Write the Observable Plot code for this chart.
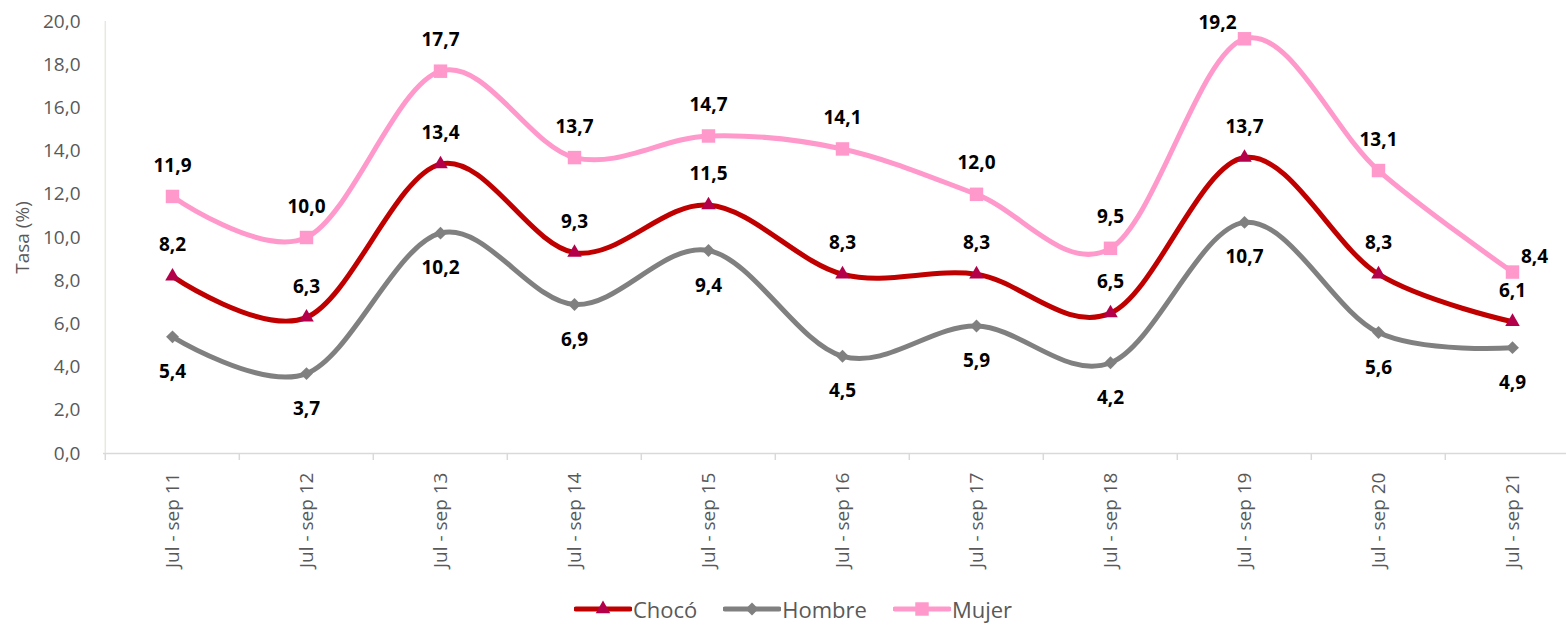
<!DOCTYPE html>
<html>
<head>
<meta charset="utf-8">
<script src="https://cdn.jsdelivr.net/npm/d3@7"></script>
<script src="https://cdn.jsdelivr.net/npm/@observablehq/plot@0.6"></script>
<style>
  html, body { margin: 0; padding: 0; background: #fff; overflow: hidden; width: 1566px; height: 628px; }
  #chart svg { display: block; overflow: hidden; }
  #legend { height: 38px; display: flex; justify-content: center; align-items: center; font-family: "Open Sans", sans-serif; font-size: 22px; color: #595959; padding-left: 20px; box-sizing: border-box; }
  .item { display: flex; align-items: center; margin: 0 13px; }
  .item svg { display: block; margin-right: 1px; }
</style>
</head>
<body>
<div id="chart"></div>
<div id="legend"></div>
<script>
const categories = ["Jul - sep 11","Jul - sep 12","Jul - sep 13","Jul - sep 14","Jul - sep 15","Jul - sep 16","Jul - sep 17","Jul - sep 18","Jul - sep 19","Jul - sep 20","Jul - sep 21"];
const seriesNames = ["Chocó", "Hombre", "Mujer"];
const choco  = [8.2, 6.3, 13.4, 9.3, 11.5, 8.3, 8.3, 6.5, 13.7, 8.3, 6.1];
const hombre = [5.4, 3.7, 10.2, 6.9, 9.4, 4.5, 5.9, 4.2, 10.7, 5.6, 4.9];
const mujer  = [11.9, 10.0, 17.7, 13.7, 14.7, 14.1, 12.0, 9.5, 19.2, 13.1, 8.4];
const yTicks = [0, 2, 4, 6, 8, 10, 12, 14, 16, 18, 20];
const yTitle = "Tasa (%)";

const fmt = d => d.toFixed(1).replace(".", ",");
const rows = (vals, s) => vals.map((v, i) => ({cat: categories[i], v, s, i}));
const dChoco = rows(choco, "Chocó");
const dHombre = rows(hombre, "Hombre");
const dMujer = rows(mujer, "Mujer");

const style = {
  "Chocó": {line: "#C00000", marker: "#B4004B", symbol: "triangle", r: 5.4},
  "Hombre": {line: "#808080", marker: "#808080", symbol: "diamond2", r: 5.8},
  "Mujer": {line: "#FF99CC", marker: "#FF99CC", symbol: "square", r: 7.6}
};

const W = 1566, H = 590, mL = 103, mT = 21, mB = 137;

const mujerAbove = dMujer.filter((d, i) => i !== 8 && i !== 10);
const mujerPeak = dMujer.filter((d, i) => i === 8);
const mujerLast = dMujer.filter((d, i) => i === 10);

const lbl = {x: "cat", y: "v", text: d => fmt(d.v), fontSize: 19, fontWeight: "bold", fill: "#000"};

const chart = Plot.plot({
  width: W, height: H,
  marginLeft: mL, marginRight: 0, marginTop: mT, marginBottom: mB,
  style: {fontFamily: "'Open Sans', sans-serif", background: "#fff"},
  x: {type: "band", domain: categories, range: [mL, mL + 11 * 134.4], padding: 0},
  y: {domain: [0, 20]},
  marks: [
    Plot.ruleY([0], {stroke: "#d9d9d9", strokeWidth: 1.5}),
    Plot.ruleX([0], {x: () => categories[0], dx: -67.2, y1: 0, y2: 20, stroke: "#ebe7dd", strokeWidth: 1.5}),
    Plot.axisX({tickSize: 7, dx: -67.2, tickFormat: () => "", stroke: "#d9d9d9", strokeWidth: 1.5, label: null}),
    Plot.axisX({tickSize: 0, tickRotate: -90, tickPadding: 19, fontSize: 19, fill: "#595959", label: null}),
    Plot.axisY({ticks: yTicks, tickFormat: fmt, tickSize: 0, tickPadding: 23, fontSize: 19, fill: "#595959", label: null}),
    Plot.text([yTitle], {frameAnchor: "left", textAnchor: "middle", rotate: -90, dx: -81, fontSize: 19, fill: "#595959"}),
    ...[dChoco, dHombre, dMujer].flatMap(d => {
      const st = style[d[0].s];
      return [
        Plot.line(d, {x: "cat", y: "v", stroke: st.line, strokeWidth: 5, curve: "cardinal"}),
        Plot.dot(d, {x: "cat", y: "v", symbol: () => st.symbol, r: st.r, fill: st.marker, stroke: "none"})
      ];
    }),
    Plot.text(dChoco, {...lbl, dy: -31}),
    Plot.text(dHombre, {...lbl, dy: 35}),
    Plot.text(mujerAbove, {...lbl, dy: -31}),
    Plot.text(mujerPeak, {...lbl, dx: -27, dy: -16}),
    Plot.text(mujerLast, {...lbl, dx: 22, dy: -15})
  ]
});
document.getElementById("chart").appendChild(chart);

// legend
const legend = document.getElementById("legend");
seriesNames.forEach(name => {
  const st = style[name];
  const path = d3.symbol(
    st.symbol === "triangle" ? d3.symbolTriangle : st.symbol === "square" ? d3.symbolSquare : d3.symbolDiamond2,
    st.r * st.r * Math.PI)();
  const item = document.createElement("div");
  item.className = "item";
  item.innerHTML = `<svg width="58" height="20" viewBox="0 0 58 20">
    <line x1="2" y1="10" x2="56" y2="10" stroke="${st.line}" stroke-width="5" stroke-linecap="round"/>
    <path d="${path}" transform="translate(29,10)" fill="${st.marker}"/>
  </svg><span>${name}</span>`;
  legend.appendChild(item);
});
</script>
</body>
</html>
